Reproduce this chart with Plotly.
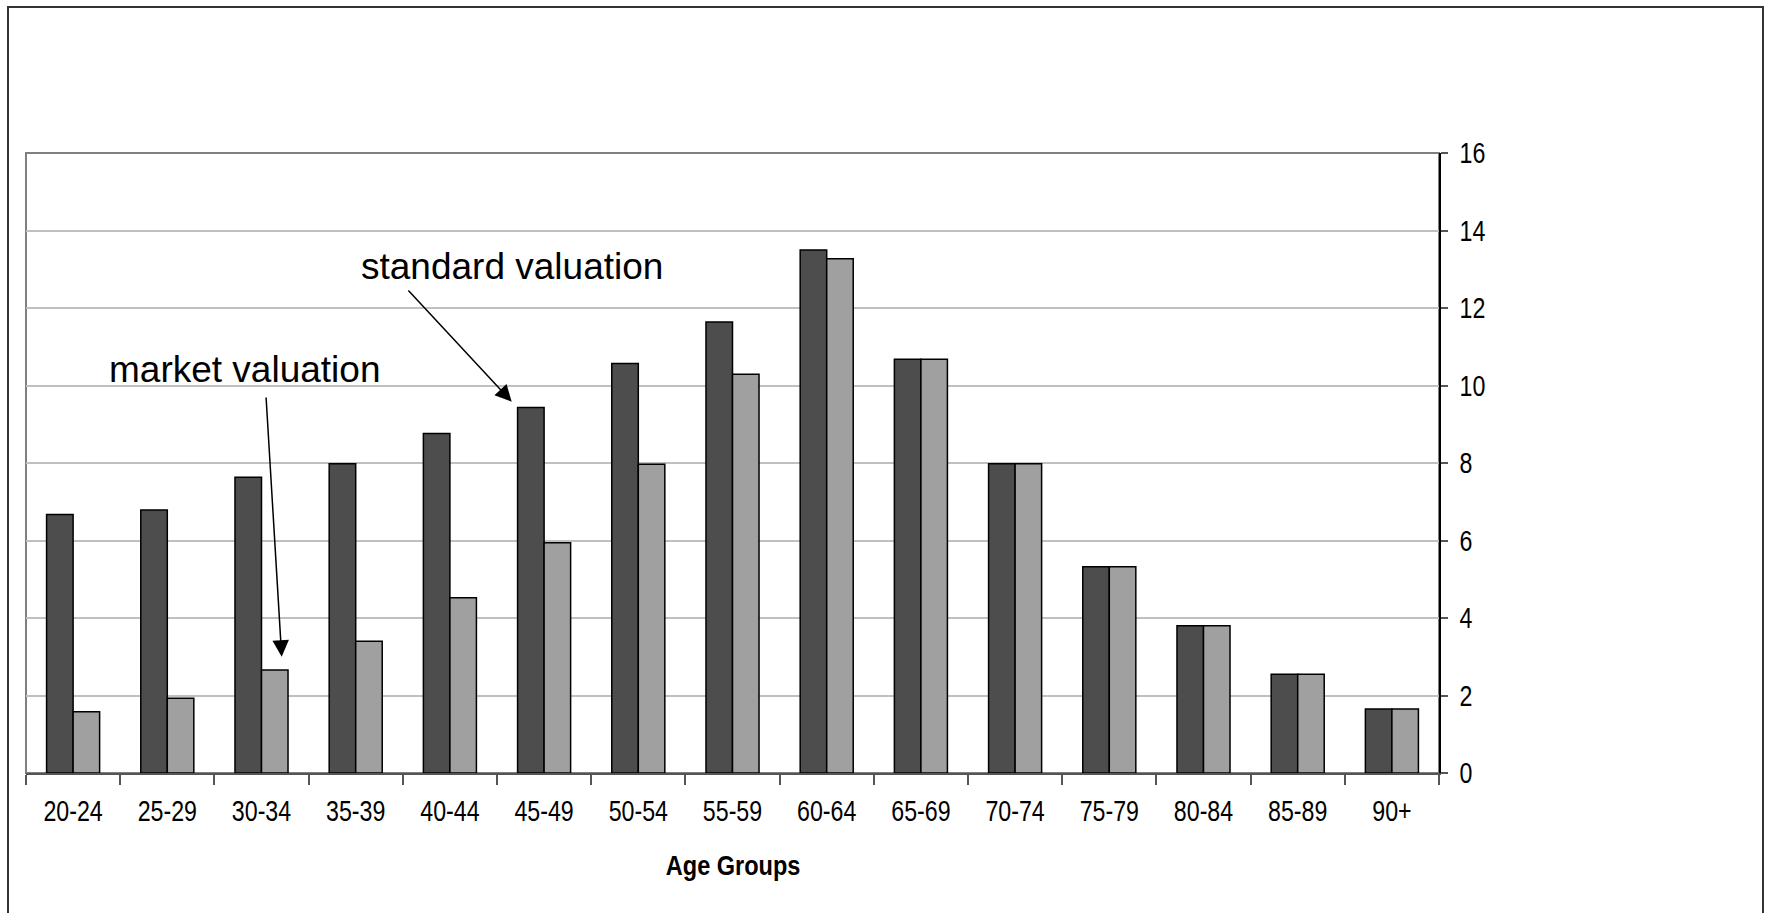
import plotly.graph_objects as go

# Age-group shares under the two valuation methods
age_groups = ["20-24", "25-29", "30-34", "35-39", "40-44", "45-49", "50-54",
              "55-59", "60-64", "65-69", "70-74", "75-79", "80-84", "85-89", "90+"]
standard_valuation = [6.67, 6.79, 7.63, 7.98, 8.76, 9.43, 10.57, 11.64, 13.50,
                      10.68, 7.98, 5.32, 3.80, 2.55, 1.65]
market_valuation = [1.58, 1.93, 2.66, 3.40, 4.52, 5.94, 7.97, 10.29, 13.27,
                    10.68, 7.98, 5.32, 3.80, 2.55, 1.65]
y_ticks = [0, 2, 4, 6, 8, 10, 12, 14, 16]

W, H = 1765, 913
L, R, T, B = 26, 326, 153, 140
pw, ph = W - L - R, H - T - B

TICK_FONT = dict(family="Liberation Sans, Arial, sans-serif", size=29, color="black")
TEXT_FONT = dict(family="Liberation Sans, Arial, sans-serif", size=37, color="black")

fig = go.Figure()
fig.add_trace(go.Bar(x=age_groups, y=standard_valuation, name="standard valuation",
                     marker=dict(color="#4d4d4d", line=dict(color="black", width=1.5))))
fig.add_trace(go.Bar(x=age_groups, y=market_valuation, name="market valuation",
                     marker=dict(color="#a0a0a0", line=dict(color="black", width=1.5))))


def px_x(p):
    return (p - L) / pw


def px_y(p):
    return (H - B - p) / ph


shapes = [
    # plot-area frame
    dict(type="rect", xref="paper", yref="paper", x0=0, x1=1, y0=0, y1=1,
         line=dict(color="#808080", width=2), layer="below"),
    # chart-area frame
    dict(type="rect", xref="paper", yref="paper",
         x0=px_x(8), x1=px_x(1763), y0=px_y(940), y1=px_y(7),
         line=dict(color="#333333", width=2)),
]

annotations = [
    dict(text="market valuation", xref="paper", yref="paper",
         x=px_x(107), y=px_y(369), xanchor="left", yanchor="middle",
         showarrow=False, font=TEXT_FONT),
    dict(text="standard valuation", xref="paper", yref="paper",
         x=px_x(359), y=px_y(266), xanchor="left", yanchor="middle",
         showarrow=False, font=TEXT_FONT),
    # arrow to the market-valuation bar
    dict(text="", xref="paper", yref="paper", x=px_x(281.7), y=px_y(656.7),
         ax=266 - 281.7, ay=396 - 656.7, showarrow=True,
         arrowhead=2, arrowsize=2.2, arrowwidth=1.5, arrowcolor="black"),
    # arrow to the standard-valuation bar
    dict(text="", xref="paper", yref="paper", x=px_x(511.7), y=px_y(401.7),
         ax=407 - 511.7, ay=289 - 401.7, showarrow=True,
         arrowhead=2, arrowsize=2.2, arrowwidth=1.5, arrowcolor="black"),
    dict(text="<b>Age Groups</b>", xref="paper", yref="paper",
         x=0.5, y=px_y(865), xanchor="center", yanchor="middle", showarrow=False,
         font=dict(family="Liberation Sans, Arial, sans-serif", size=28, color="black")),
]

fig.update_layout(
    width=W, height=H,
    margin=dict(l=L, r=R, t=T, b=B),
    paper_bgcolor="white", plot_bgcolor="white",
    barmode="group", bargap=0.437, bargroupgap=0,
    showlegend=False,
    shapes=shapes, annotations=annotations,
    xaxis=dict(type="category", tickson="boundaries", ticks="outside", ticklen=10,
               tickcolor="#555555", tickwidth=1.5,
               showline=True, linecolor="#555555", linewidth=2,
               showgrid=False, tickfont=TICK_FONT, ticklabelstandoff=11),
    yaxis=dict(side="right", range=[0, 16], tickvals=y_ticks, ticks="outside",
               ticklen=7, tickcolor="#555555", tickwidth=1.5,
               showline=True, linecolor="black", linewidth=1.5,
               showgrid=True, gridcolor="#c0c0c0", gridwidth=2,
               zeroline=False, tickfont=TICK_FONT, ticklabelstandoff=6),
)

# Condensed lettering for the axis labels (horizontal squeeze of the glyphs)
condense_js = """
var gd = document.getElementById('{plot_id}');
function squeeze(el, f) {
  var w = el.getComputedTextLength();
  if (!w) return;
  el.setAttribute('textLength', (w * f).toFixed(1));
  el.setAttribute('lengthAdjust', 'spacingAndGlyphs');
}
function condense() {
  gd.querySelectorAll('.xtick text, .ytick text').forEach(function (t) { squeeze(t, 0.8); });
  gd.querySelectorAll('.annotation-text').forEach(function (t) {
    if (t.textContent === 'Age Groups') squeeze(t, 0.84);
  });
}
condense();
gd.on('plotly_afterplot', condense);
"""

fig.write_html("out.html", post_script=condense_js)
